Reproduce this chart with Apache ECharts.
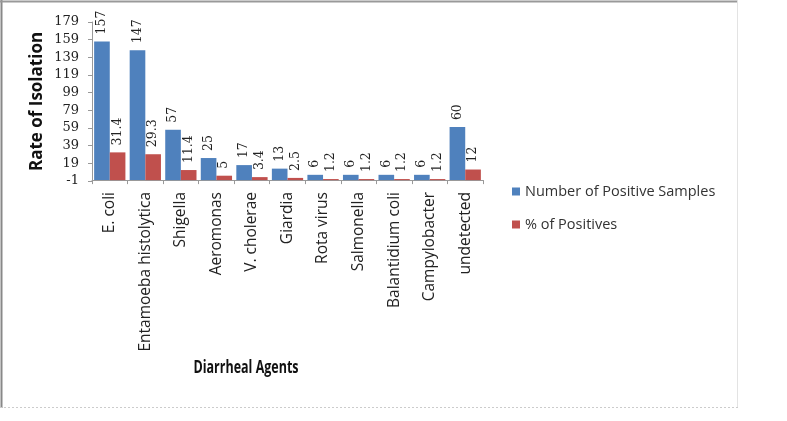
<!DOCTYPE html>
<html>
<head>
<meta charset="utf-8">
<script src="https://cdn.jsdelivr.net/npm/echarts@6/dist/echarts.min.js"></script>
<style>
  html, body { margin: 0; padding: 0; background: #fff; }
  #chart { width: 787px; height: 421px; }
</style>
</head>
<body>
<div id="chart"></div>
<script>
// data
var agents = ['E. coli', 'Entamoeba histolytica', 'Shigella', 'Aeromonas', 'V. cholerae',
  'Giardia', 'Rota virus', 'Salmonella', 'Balantidium coli', 'Campylobacter', 'undetected'];
var positiveSamples = [157, 147, 57, 25, 17, 13, 6, 6, 6, 6, 60];
var percentPositives = [31.4, 29.3, 11.4, 5, 3.4, 2.5, 1.2, 1.2, 1.2, 1.2, 12];
var yTicks = { min: -1, max: 179, step: 20 };

var chart = echarts.init(document.getElementById('chart'));

// rotated value label above each bar
function barLabel() {
  return {
    show: true,
    position: 'top',
    rotate: 90,
    align: 'left',
    verticalAlign: 'middle',
    distance: 7,
    fontFamily: 'DejaVu Serif',
    fontSize: 12.5,
    color: '#222'
  };
}

var option = {
  animation: false,
  backgroundColor: '#fff',
  grid: { left: 92, top: 22, right: 304, bottom: 240 },
  legend: {
    orient: 'vertical',
    left: 507,
    top: 179,
    itemWidth: 8,
    itemHeight: 8,
    itemGap: 18,
    icon: 'rect',
    textStyle: { fontFamily: 'Open Sans', fontSize: 14.5, color: '#333' },
    data: ['Number of Positive Samples', '% of Positives']
  },
  xAxis: {
    type: 'category',
    data: agents,
    axisLine: { lineStyle: { color: '#999' } },
    axisTick: { show: true, length: 4, lineStyle: { color: '#999' } },
    axisLabel: {
      rotate: 90,
      fontFamily: 'Open Sans',
      fontSize: 15.5,
      color: '#222',
      margin: 11
    }
  },
  yAxis: {
    type: 'value',
    min: yTicks.min,
    max: yTicks.max,
    interval: yTicks.step,
    name: 'Rate of Isolation',
    nameLocation: 'middle',
    nameGap: 46,
    nameRotate: 90,
    nameMoveOverlap: false,
    nameTextStyle: { fontFamily: 'Open Sans', fontWeight: 'bold', fontSize: 17, color: '#111' },
    splitLine: { show: false },
    axisLine: { show: true, lineStyle: { color: '#999' } },
    axisTick: { show: true, length: 4, lineStyle: { color: '#999' } },
    axisLabel: { fontFamily: 'DejaVu Serif', fontSize: 13, color: '#222', margin: 13 }
  },
  series: [
    {
      name: 'Number of Positive Samples',
      type: 'bar',
      data: positiveSamples,
      barGap: '0%',
      barCategoryGap: '12%',
      itemStyle: { color: '#4F81BD' },
      label: barLabel()
    },
    {
      name: '% of Positives',
      type: 'bar',
      data: percentPositives,
      barGap: '0%',
      barCategoryGap: '12%',
      itemStyle: { color: '#C0504D' },
      label: barLabel()
    }
  ],
  graphic: [
    {
      type: 'text',
      x: 246,
      y: 368,
      scaleY: 1.35,
      style: {
        text: 'Diarrheal Agents',
        font: 'bold 12.5px "Open Sans"',
        fill: '#111',
        textAlign: 'center',
        textVerticalAlign: 'middle'
      }
    },
    { type: 'line', shape: { x1: 1.5, y1: 0, x2: 1.5, y2: 408 }, style: { stroke: '#888', lineWidth: 2 } },
    { type: 'line', shape: { x1: 0, y1: 1.5, x2: 738, y2: 1.5 }, style: { stroke: '#999', lineWidth: 2 } },
    { type: 'line', shape: { x1: 737.5, y1: 0, x2: 737.5, y2: 408 }, style: { stroke: '#e3e3e3', lineWidth: 1 } },
    { type: 'line', shape: { x1: 0, y1: 407.5, x2: 738, y2: 407.5 }, style: { stroke: '#ccc', lineWidth: 1, lineDash: [2, 2] } }
  ]
};

chart.setOption(option);
</script>
</body>
</html>
